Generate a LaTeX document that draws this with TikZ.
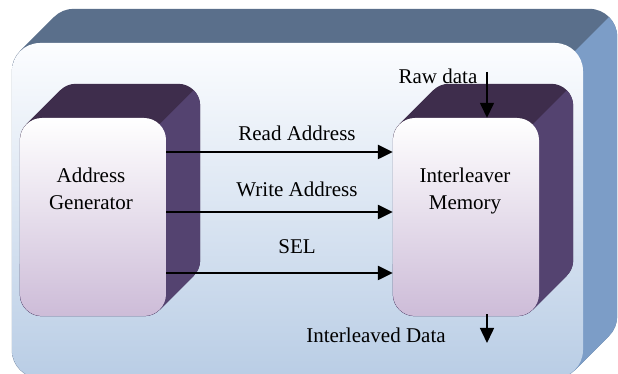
\documentclass[tikz,border=0pt]{standalone}
\usepackage{fontspec}
\setmainfont{Liberation Serif}
\usetikzlibrary{calc,arrows.meta}

% drawing order: frame extrusion, frame face, block extrusions, everything else
\pgfdeclarelayer{framehull}
\pgfdeclarelayer{frameface}
\pgfdeclarelayer{blockhull}
\pgfsetlayers{framehull,frameface,blockhull,main}

\definecolor{frameTop}{HTML}{5A6F8B}
\definecolor{frameSide}{HTML}{7C9DC7}
\definecolor{frameHigh}{HTML}{FCFDFF}
\definecolor{frameLow}{HTML}{B9CDE5}
\definecolor{blockTop}{HTML}{3E2D4C}
\definecolor{blockSide}{HTML}{544370}
\definecolor{blockLow}{HTML}{CDBCD8}

% outline of a rounded face swept back by (#3,#3): node #1, corner radius #2
\newcommand\hullpath[3]{%
  ($(#1.south east)+(-#2,#2)+(-45:#2pt)$) -- ++(#3,#3)
  arc[start angle=-45,end angle=0,radius=#2pt]
  -- ($(#1.north east)+(#3,#3-#2)$)
  arc[start angle=0,end angle=90,radius=#2pt]
  -- ($(#1.north west)+(#3+#2,#3)$)
  arc[start angle=90,end angle=135,radius=#2pt]
  -- ++(-#3,-#3)
  arc[start angle=135,end angle=180,radius=#2pt]
  -- ($(#1.south west)+(0,#2)$)
  arc[start angle=180,end angle=270,radius=#2pt]
  -- ($(#1.south east)+(-#2,0)$)
  arc[start angle=270,end angle=315,radius=#2pt] -- cycle}

% extrusion behind a face: top colour #4, side colour #5
\newcommand\extrude[5]{%
  \fill[#4] \hullpath{#1}{#2}{#3};
  \begin{scope}
    \clip \hullpath{#1}{#2}{#3};
    \fill[#5] ($(#1.north east)+(-#2,-#2)+(-400,-400)$) -- ++(800,800) -- ++(0,-800) -- cycle;
  \end{scope}}

\begin{document}
\begin{tikzpicture}[x=1pt,y=1pt,
  font=\fontsize{21}{27}\selectfont,
  frame/.style={rounded corners=28pt, top color=frameHigh, bottom color=frameLow,
    minimum width=571pt, minimum height=335pt, inner sep=0pt, draw=none},
  block/.style={rounded corners=22pt, top color=white, bottom color=blockLow,
    minimum width=146pt, minimum height=198pt, inner sep=0pt, draw=none},
  lbl/.style={inner sep=0pt, align=center},
  sig/.style={line width=2.4pt, -{Triangle[length=15pt,width=14pt]}},
  io/.style={line width=1.5pt, -{Triangle[length=15pt,width=14pt]}}]

\useasboundingbox (0,0) rectangle (618,374);

% outer frame
\begin{pgfonlayer}{frameface}
  \node[frame] (frame) at (297.5,163.5) {};
\end{pgfonlayer}
\begin{pgfonlayer}{framehull}
  \extrude{frame}{28}{34}{frameTop}{frameSide}
\end{pgfonlayer}

% the two blocks
\node[block] (ag) at (93,157) {};
\node[block] (im) at (466,157) {};
\begin{pgfonlayer}{blockhull}
  \extrude{ag}{22}{34}{blockTop}{blockSide}
  \extrude{im}{22}{34}{blockTop}{blockSide}
\end{pgfonlayer}

\node[lbl] (agtext) at ([shift={(-2,28)}]ag.center) {Address\\Generator};
\node[lbl] (imtext) at ([shift={(-1,26)}]im.center) {Interleaver\\Memory};

% signals between the blocks
\draw[sig] ([yshift=65pt]ag.east) -- ([yshift=65pt]im.west);
\draw[sig] ([yshift=5pt]ag.east) -- ([yshift=5pt]im.west);
\draw[sig] ([yshift=-56pt]ag.east) -- ([yshift=-56pt]im.west);
\node[lbl] (rdlbl) at (297,241) {Read Address};
\node[lbl] (wrlbl) at (297,185) {Write Address};
\node[lbl] (sellbl) at (297,127) {SEL};

% data in and out
\coordinate (rawsrc) at (487,302);
\coordinate (outdst) at (487,31);
\draw[io] (rawsrc) -- ([xshift=21pt]im.north);
\draw[io] ([xshift=21pt,yshift=2pt]im.south) -- (outdst);
\node[lbl] (rawlbl) at (438,298) {Raw data};
\node[lbl] (outlbl) at (376,39) {Interleaved Data};
\end{tikzpicture}
\end{document}
